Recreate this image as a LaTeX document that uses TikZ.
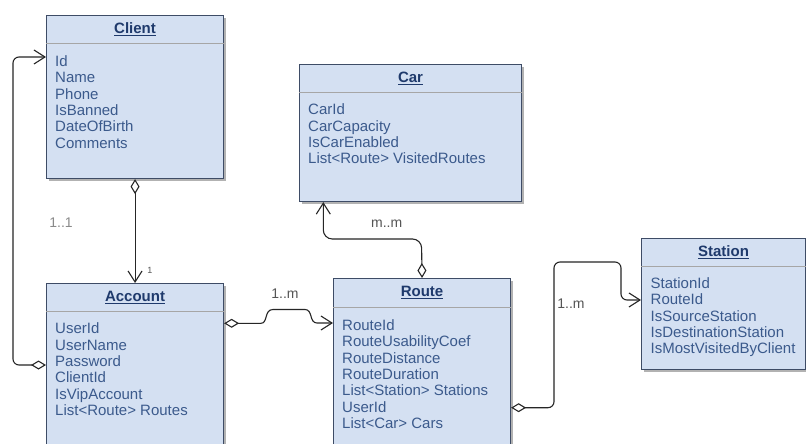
\documentclass[tikz,border=0pt]{standalone}
\usepackage{fontspec}
\setmainfont{Liberation Sans}
\usetikzlibrary{arrows.meta,shadows,calc}
\definecolor{boxfill}{HTML}{D4E0F2}
\definecolor{boxline}{HTML}{3E4C66}
\definecolor{titlec}{HTML}{1F3A6C}
\definecolor{attrc}{HTML}{3B5A8C}
\definecolor{lblc}{HTML}{555555}
\definecolor{lbllight}{HTML}{8A8A8A}
\tikzset{
  classbox/.style={draw=boxline, fill=boxfill, line width=1.1pt, rectangle, inner sep=0pt, anchor=north west,
    drop shadow={shadow xshift=2.5pt, shadow yshift=-2.5pt, fill=black!60, opacity=0.5}},
  classtitle/.style={anchor=base, inner sep=0pt, font=\fontsize{15}{16.4}\selectfont\bfseries, text=titlec},
  attrs/.style={anchor=north west, inner sep=0pt, align=left, font=\fontsize{15}{16.4}\selectfont, text=attrc},
  sepline/.style={draw=black!35, line width=0.9pt},
  conn/.style={draw=black!85, line width=1.1pt, rounded corners=6pt},
  agg/.style={{Diamond[fill=white,length=15pt,width=9pt]}-{Straight Barb[length=11pt,width=14pt]}},
  lbl/.style={inner sep=0pt, font=\fontsize{14}{16}\selectfont, text=lblc},
  lbllt/.style={inner sep=0pt, font=\fontsize{14}{16}\selectfont, text=lbllight},
  lblsmall/.style={inner sep=0pt, font=\fontsize{9}{10}\selectfont, text=lblc}
}
\begin{document}
\begin{tikzpicture}[x=1pt,y=-1pt]
\useasboundingbox (0,0) rectangle (806,444);
\clip (0,0) rectangle (806,444);
\fill[white] (0,0) rectangle (806,444);

% ---- Client ----
\node[classbox, minimum width=177pt, minimum height=163pt] (client) at (46,15) {};
\node[classtitle] (clientT) at ($(client.north)+(0,18.5)$) {\underline{Client}};
\draw[sepline] ($(client.north west)+(0,28)$) -- ($(client.north east)+(0,28)$);
\node[attrs] (clientA) at ($(client.north west)+(9,39)$) {\rule{0pt}{12pt}Id\\Name\\Phone\\IsBanned\\DateOfBirth\\Comments};

% ---- Account ----
\node[classbox, minimum width=177pt, minimum height=175pt] (account) at (46,283) {};
\node[classtitle] (accountT) at ($(account.north)+(0,18.5)$) {\underline{Account}};
\draw[sepline] ($(account.north west)+(0,28)$) -- ($(account.north east)+(0,28)$);
\node[attrs] (accountA) at ($(account.north west)+(9,38.5)$) {\rule{0pt}{12pt}UserId\\UserName\\Password\\ClientId\\IsVipAccount\\List<Route> Routes};

% ---- Car ----
\node[classbox, minimum width=222pt, minimum height=137pt] (car) at (299,64) {};
\node[classtitle] (carT) at ($(car.north)+(0,18.5)$) {\underline{Car}};
\draw[sepline] ($(car.north west)+(0,28)$) -- ($(car.north east)+(0,28)$);
\node[attrs] (carA) at ($(car.north west)+(9,38.5)$) {\rule{0pt}{12pt}CarId\\CarCapacity\\IsCarEnabled\\List<Route> VisitedRoutes};

% ---- Route ----
\node[classbox, minimum width=177pt, minimum height=180pt] (route) at (333,278) {};
\node[classtitle] (routeT) at ($(route.north)+(0,18.5)$) {\underline{Route}};
\draw[sepline] ($(route.north west)+(0,29)$) -- ($(route.north east)+(0,29)$);
\node[attrs] (routeA) at ($(route.north west)+(9,40)$) {\rule{0pt}{12pt}RouteId\\RouteUsabilityCoef\\RouteDistance\\RouteDuration\\List<Station> Stations\\UserId\\List<Car> Cars};

% ---- Station ----
\node[classbox, minimum width=164pt, minimum height=131pt] (station) at (641,238) {};
\node[classtitle] (stationT) at ($(station.north)+(0,18.5)$) {\underline{Station}};
\draw[sepline] ($(station.north west)+(0,28.5)$) -- ($(station.north east)+(0,28.5)$);
\node[attrs] (stationA) at ($(station.north west)+(9.5,38)$) {\rule{0pt}{12pt}StationId\\RouteId\\IsSourceStation\\IsDestinationStation\\IsMostVisitedByClient};

% ---- Connectors ----
\draw[conn, agg] (client.south) -- (account.north);
\draw[conn, agg] (account.west |- 0,365) -- (13,365) -- (13,57) -- (client.west |- 0,57);
\draw[conn, agg, rounded corners=0pt] (account.east |- 0,323.3) -- (261,323.3)
   .. controls (268,323.3) and (264,309.5) .. (273,309.5) -- (305,309.5)
   .. controls (313,309.5) and (309,323) .. (317,323) -- (route.west |- 0,323);
\draw[conn, agg, rounded corners=9pt] (route.north) -- (421.5,239) -- (323.3,239) -- (323.3,0 |- car.south);
\draw[conn, agg] (route.east |- 0,407.7) -- (554,407.7) -- (554,262) -- (621,262) -- (621,300) -- (station.west |- 0,300);

% ---- Labels ----
\node[lbllt] (l11) at (61,223) {1..1};
\node[lblsmall] (l1) at (150,270.5) {1};
\node[lbl] (l1m) at (285,293.3) {1..m};
\node[lbl] (lmm) at (386.7,223.3) {m..m};
\node[lbl] (l1mb) at (571,303.3) {1..m};
\end{tikzpicture}
\end{document}
